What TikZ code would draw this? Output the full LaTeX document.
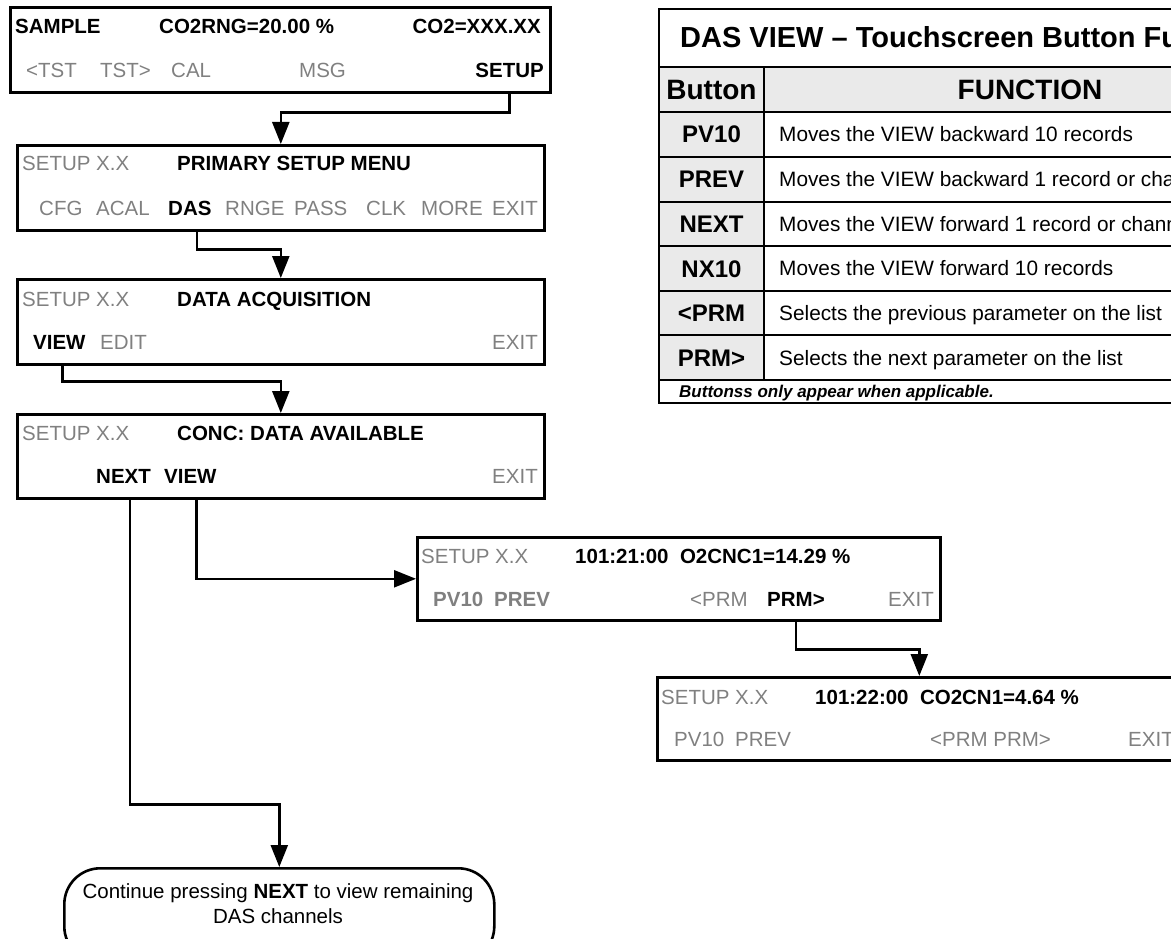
\documentclass[tikz,border=0pt]{standalone}
\usepackage{fontspec}
\setmainfont{Liberation Sans}
\usetikzlibrary{arrows.meta}
\definecolor{txtgray}{RGB}{128,128,128}
\definecolor{cellgray}{RGB}{234,234,234}
\begin{document}
\begin{tikzpicture}[x=1pt,y=-1pt,
  scrbox/.style={draw, line width=2.6pt, anchor=north west, inner sep=0pt},
  basetxt/.style={anchor=base west, inner sep=0pt, font=\fontsize{20.5}{24}\selectfont},
  ltxt/.style={basetxt, text=txtgray},
  btxt/.style={basetxt, font=\fontsize{20.5}{24}\selectfont\bfseries},
  gbtxt/.style={btxt, text=txtgray},
  conn/.style={line width=2.4pt, -{Triangle[length=22pt,width=17pt]}},
  tline/.style={line width=2pt},
  ttitle/.style={anchor=base, inner sep=0pt, font=\fontsize{28}{32}\selectfont\bfseries},
  tbtn/.style={anchor=base, inner sep=0pt, font=\fontsize{24}{28}\selectfont\bfseries},
  tdesc/.style={anchor=base west, inner sep=0pt, font=\fontsize{20.8}{24}\selectfont},
  tfoot/.style={anchor=base west, inner sep=0pt, font=\fontsize{17}{20}\selectfont\bfseries\itshape}
]
\clip (0,0) rectangle (1171,939);
\useasboundingbox (0,0) rectangle (1171,939);

% ---------------- screens ----------------
\node[scrbox, minimum width=540pt, minimum height=85pt] (s1) at (9,6) {};
\node[btxt] (t1a) at (15,34) {SAMPLE};
\node[btxt] (t1b) at (159,34) {CO2RNG=20.00 \%};
\node[btxt, anchor=base east] (t1c) at (541,34) {CO2=XXX.XX};
\node[ltxt] (t1d) at (26,78) {<TST};
\node[ltxt] (t1e) at (100,78) {TST>};
\node[ltxt] (t1f) at (171,78) {CAL};
\node[ltxt] (t1g) at (299,78) {MSG};
\node[btxt, anchor=base east] (t1h) at (544,78) {SETUP};

\node[scrbox, minimum width=527pt, minimum height=85pt] (s2) at (16,144) {};
\node[ltxt] (t2a) at (22,171) {SETUP X.X};
\node[btxt] (t2b) at (177,171) {PRIMARY SETUP MENU};
\node[ltxt] (t2c) at (39,215) {CFG};
\node[ltxt] (t2d) at (96,215) {ACAL};
\node[btxt] (t2das) at (168,215) {DAS};
\node[ltxt] (t2e) at (225,215) {RNGE};
\node[ltxt] (t2f) at (294,215) {PASS};
\node[ltxt] (t2g) at (366,215) {CLK};
\node[ltxt] (t2h) at (421,215) {MORE};
\node[ltxt, anchor=base east] (t2i) at (538,215) {EXIT};

\node[scrbox, minimum width=527pt, minimum height=85pt] (s3) at (16,278) {};
\node[ltxt] (t3a) at (22,306) {SETUP X.X};
\node[btxt] (t3b) at (177,306) {DATA ACQUISITION};
\node[btxt] (t3view) at (33,349) {VIEW};
\node[ltxt] (t3c) at (100,349) {EDIT};
\node[ltxt, anchor=base east] (t3d) at (538,349) {EXIT};

\node[scrbox, minimum width=527pt, minimum height=84pt] (s4) at (16,413) {};
\node[ltxt] (t4a) at (22,440) {SETUP X.X};
\node[btxt] (t4b) at (177,440) {CONC: DATA AVAILABLE};
\node[btxt] (t4next) at (96,483) {NEXT};
\node[btxt] (t4view) at (164,483) {VIEW};
\node[ltxt, anchor=base east] (t4c) at (538,483) {EXIT};

\node[scrbox, minimum width=523pt, minimum height=83pt] (s5) at (416,536) {};
\node[ltxt] (t5a) at (421,563) {SETUP X.X};
\node[btxt] (t5b) at (575,563) {101:21:00\ \ O2CNC1=14.29 \%};
\node[gbtxt] (t5c) at (433,606) {PV10};
\node[gbtxt] (t5d) at (494,606) {PREV};
\node[ltxt] (t5e) at (690,606) {<PRM};
\node[btxt] (t5prm) at (767,606) {PRM>};
\node[ltxt, anchor=base east] (t5f) at (934,606) {EXIT};

\node[scrbox, minimum width=524pt, minimum height=83pt] (s6) at (656,676) {};
\node[ltxt] (t6a) at (661,704) {SETUP X.X};
\node[btxt] (t6b) at (815,704) {101:22:00\ \ CO2CN1=4.64 \%};
\node[ltxt] (t6c) at (674,746) {PV10};
\node[ltxt] (t6d) at (735,746) {PREV};
\node[ltxt] (t6e) at (930,746) {<PRM PRM>};
\node[ltxt] (t6f) at (1128,746) {EXIT};

\node[draw, line width=2.6pt, rounded corners=36pt, anchor=north west, inner sep=0pt,
      minimum width=430pt, minimum height=94pt] (rb) at (63,867) {};
\node[basetxt, anchor=base] (r1) at (278,898) {Continue pressing \textbf{NEXT} to view remaining};
\node[basetxt, anchor=base] (r2) at (278,923) {DAS channels};

% ---------------- connectors ----------------
\coordinate (k1) at (t1h.south);
\coordinate (k2) at ([xshift=7pt]t2das.south);
\coordinate (k3) at ([xshift=3pt]t3view.south);
\coordinate (k4) at ([xshift=6.5pt]t4next.south);
\coordinate (k5) at ([xshift=6pt]t4view.south);
\coordinate (k6) at (t5prm.south);

\draw[conn] (k1 |- s1.south) -- ++(0,19) -| (s2.north);
\draw[conn] (k2 |- s2.south) -- ++(0,18) -| (s3.north);
\draw[conn] (k3 |- s3.south) -- ++(0,16) -| (s4.north);
\draw[conn] (k4 |- s4.south) -- ++(0,305) -| (rb.north);
\draw[conn] (k5 |- s4.south) |- (s5.west);
\draw[conn] (k6 |- s5.south) -- ++(0,28) -| (s6.north);

% ---------------- table ----------------
\fill[cellgray] (659,67) rectangle (1296,112);
\fill[cellgray] (659,112) rectangle (764,380);
\draw[tline] (659,9) rectangle (1296,403);
\foreach \yy in {67,112,157,202,246,291,335,380}
  \draw[tline] (659,\yy) -- (1296,\yy);
\draw[tline] (764,67) -- (764,380);

\node[ttitle, anchor=base west, font=\fontsize{29}{32}\selectfont\bfseries] (tt) at (680,48) {DAS VIEW – Touchscreen Button Functions};
\node[ttitle] (th1) at (711.5,100) {Button};
\node[ttitle] (th2) at (1030,100) {FUNCTION};

\node[tbtn] (tb1) at (711.5,143) {PV10};
\node[tbtn] (tb2) at (711.5,188) {PREV};
\node[tbtn] (tb3) at (711.5,232.5) {NEXT};
\node[tbtn] (tb4) at (711.5,277) {NX10};
\node[tbtn] (tb5) at (711.5,321.5) {<PRM};
\node[tbtn] (tb6) at (711.5,366) {PRM>};

\node[tdesc] (td1) at (779,142) {Moves the VIEW backward 10 records};
\node[tdesc] (td2) at (779,187) {Moves the VIEW backward 1 record or channel};
\node[tdesc] (td3) at (779,231) {Moves the VIEW forward 1 record or channel};
\node[tdesc] (td4) at (779,276) {Moves the VIEW forward 10 records};
\node[tdesc] (td5) at (779,320) {Selects the previous parameter on the list};
\node[tdesc] (td6) at (779,365) {Selects the next parameter on the list};
\node[tfoot] (tf) at (679,397.5) {Buttonss only appear when applicable.};
\end{tikzpicture}
\end{document}
